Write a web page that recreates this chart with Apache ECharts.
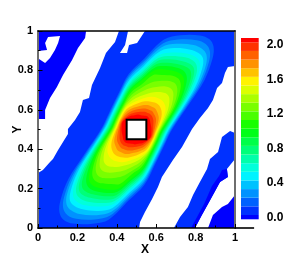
<!DOCTYPE html>
<html><head><meta charset="utf-8">
<style>html,body{margin:0;padding:0;background:#fff}#c{width:289px;height:257px}</style>
<script src="https://cdn.jsdelivr.net/npm/echarts@6/dist/echarts.min.js"></script>
</head><body><div id="c"></div>
<script>
// Colour scale: one colour per band of the legend (below 0, 0-0.1, ... above 2.0)
const bandEdges = [-0.05,0,0.1,0.2,0.3,0.4,0.5,0.6,0.7,0.8,0.9,1.0,1.1,1.2,1.3,1.4,1.5,1.6,1.7,1.8,1.9,2.0,2.05];
const bandColors = ['#0000ff','#0031ff','#0061ff','#0092ff','#00c2ff','#00f3ff','#00ffdb','#00ffaa','#00ff79','#00ff49','#00ff18',
  '#18ff00','#49ff00','#79ff00','#aaff00','#dbff00','#fff300','#ffc200','#ff9200','#ff6100','#ff3100','#ff0000'];
const legendTicks = [0,0.4,0.8,1.2,1.6,2.0];
const axisTicks = [0,0.2,0.4,0.6,0.8,1];

// Regions of the domain where the field is defined (x,y in axis units)
const regionMiddle = [[0,0],[0,.279],[.025,.294],[.061,.335],[.076,.350],[.102,.396],[.127,.437],[.152,.477],[.152,.503],[.188,.548],[.213,.589],[.228,.650],[.259,.660],[.274,.726],[.315,.812],[.345,.888],[.391,.944],[.411,1],[.457,1],[.442,.929],[.416,.888],[.452,.888],[.462,.929],[.503,.939],[.543,1],[1,1],[1,.822],[.964,.817],[.949,.787],[.934,.736],[.909,.711],[.888,.650],[.863,.609],[.822,.558],[.782,.503],[.731,.411],[.685,.345],[.629,.259],[.609,.208],[.579,.147],[.543,.081],[.518,.030],[.513,0]];
const regionUpperLeft = [[0,1],[.244,1],[.239,.964],[.203,.914],[.173,.853],[.127,.777],[.096,.716],[.061,.660],[.036,.599],[.036,.553],[0,.553],[0,.858],[.005,.858],[.036,.838],[.061,.863],[.086,.904],[.102,.939],[.112,.975],[.051,.970],[.036,.939],[.046,.904],[0,.898]];
const regionRight = [[.690,0],[.721,.056],[.761,.107],[.787,.168],[.822,.233],[.858,.299],[.873,.350],[.914,.386],[.934,.462],[.975,.492],[1,.482],[1,.350],[.959,.299],[.964,.259],[.924,.233],[.888,.168],[.863,.122],[.832,.066],[.797,0]];
const regionRightStrip = [[.959,.299],[.964,.259],[.924,.233],[.888,.168],[.863,.122],[.832,.066],[.797,0],[.777,0],[.843,.122],[.883,.213],[.919,.264],[.934,.294]];
const regionCorner = [[.863,0],[.888,.066],[.934,.107],[.964,.122],[1,.168],[1,0]];
const obstacle = [[.45,.45],[.55,.45],[.55,.55],[.45,.55]];

// Contour lines: distance from the domain centre along each ray, per level.
// The field is point-symmetric about the centre, so each ray also reads for angle+180.
const rayAngles = [150,175,190,207,216,223,227,231,236,245,253,264,278,297];
const radiusUnitsPerAxis = 197;
const contourLevels = [0.1,0.2,0.3,0.4,0.5,0.6,0.7,0.8,0.9,1.0,1.1,1.2,1.3,1.4,1.5,1.6,1.7,1.8,1.9,2.0];
const contourRadii = [
 [32,34,40.7,60.6,84,104,113,116,113.5,104,94,71,56,40],
 [31.1,33,39.4,58.4,80,99,107.5,110,107.8,99.3,90,68.4,54.1,38.8],
 [30.1,32,38.2,56.2,76.5,95,102.5,104,102,94.5,86,65.8,52.2,37.6],
 [29.2,30.9,36.9,54,73,90,97.5,98.5,96.3,89.8,82,63.2,50.2,36.4],
 [28.2,29.9,35.6,51.8,69.5,86,92.5,93.5,91.5,85,78,60.6,48.3,35.2],
 [27.3,28.9,34.4,50,66,82,88,89,87,81.2,74.8,58.3,46.6,34],
 [26.3,27.9,33.2,48.2,63,78,84,84.5,82.4,77.5,71.6,55.9,44.9,32.9],
 [25.4,26.8,32,46.2,60,74,79.5,80,78.2,73.7,68.4,53.6,43.3,31.7],
 [24.5,25.8,30.7,44.2,56.7,68.2,73.4,75.2,74.2,70,65.2,51.4,41.6,30.5],
 [23.6,24.8,29.5,42.4,54,64.6,69.4,71,70,66.2,62,49.3,39.9,29.3],
 [22.9,24,28.4,40.4,50.9,60.2,64.4,65.8,64.7,60,57,45,37.7,28.2],
 [22.1,23.2,27.3,38.4,47.9,55.8,59,60,58.5,53.5,49,41.5,35,27.1],
 [21.4,22.3,26.1,36,44,50.5,53,53.5,52,47,43,37.5,32.3,26.1],
 [20.6,21.5,25,33.5,40,45,46.5,46.5,45,41,37.5,33.5,29.5,25],
 [19.9,20.7,24,31,36,38,38.5,38.5,38,36,33.5,30,27,24],
 [19.1,19.7,22.5,28,31,32.5,33,33,32.5,31,29.5,27,24.5,22.5],
 [18.3,18.7,21,25,26.5,27.5,28,28,27.5,27,25.5,23.5,22,20.5],
 [17.5,17.6,19,22,23,23.5,24,24,23.5,23,22,20.5,19.5,18.5],
 [16.6,16.5,17,19,20,20.5,20.5,20.5,20,19.5,18.5,17.5,17,16.5],
 [16,15,15,15.5,16.5,17,17,17,16.5,15.5,15,15,14.5,15]
];

const contourPoints = radii => {
  const pts = [];
  [0,180].forEach(turn => rayAngles.forEach((a,i) => {
    const t = (a+turn)*Math.PI/180, r = radii[i]/radiusUnitsPerAxis;
    pts.push([0.5+r*Math.cos(t), 0.5+r*Math.sin(t)]);
  }));
  return pts;
};

const layers = [
  {points:regionMiddle, color:bandColors[1]},
  {points:regionUpperLeft, color:bandColors[0]},
  {points:regionRight, color:bandColors[1]},
  {points:regionRightStrip, color:bandColors[0]},
  {points:regionCorner, color:bandColors[0]}
];
contourRadii.forEach((radii,i) => layers.push({points:contourPoints(radii), color:bandColors[i+2], smooth:0.35}));
layers.push({points:obstacle, color:'#fff', stroke:'#000', lineWidth:2});

const font = {fontFamily:'"Liberation Sans",Arial,sans-serif', fontWeight:'bold', color:'#000'};
const chart = echarts.init(document.getElementById('c'), null, {renderer:'canvas'});
chart.setOption({
  animation:false,
  backgroundColor:'#fff',
  grid:[
    {left:38, top:31, width:197, height:197, outerBoundsMode:'none', containLabel:false},
    {left:241, top:38, width:17.7, height:181.3, outerBoundsMode:'none', containLabel:false}
  ],
  xAxis:[
    {gridIndex:0, type:'value', min:0, max:1, interval:0.2, z:10,
     name:'X', nameLocation:'middle', nameGap:16, nameMoveOverlap:false,
     nameTextStyle:{...font,fontSize:12,padding:[0,0,0,17]},
     axisLine:{show:true,onZero:false,lineStyle:{color:'#000',width:1.6}},
     axisTick:{show:true,inside:true,length:4,lineStyle:{color:'#000',width:1}},
     minorTick:{show:true,splitNumber:2,length:2.5,lineStyle:{color:'#000',width:1}},
     axisLabel:{...font,fontSize:11,margin:4,customValues:axisTicks},
     splitLine:{show:false}},
    {gridIndex:0, type:'value', min:0, max:1, position:'top', z:10,
     axisLine:{show:true,onZero:false,lineStyle:{color:'#000',width:1.6}},
     axisTick:{show:false},axisLabel:{show:false},splitLine:{show:false}},
    {gridIndex:1, type:'value', min:0, max:1, show:false}
  ],
  yAxis:[
    {gridIndex:0, type:'value', min:0, max:1, interval:0.2, z:10,
     name:'Y', nameLocation:'middle', nameGap:14, nameMoveOverlap:false, nameRotate:90,
     nameTextStyle:{...font,fontSize:12},
     axisLine:{show:true,onZero:false,lineStyle:{color:'#6e6e6e',width:2}},
     axisTick:{show:true,inside:true,length:4.5,lineStyle:{color:'#000',width:1}},
     minorTick:{show:true,splitNumber:2,length:2.5,lineStyle:{color:'#000',width:1}},
     axisLabel:{...font,fontSize:11,margin:5,customValues:axisTicks},
     splitLine:{show:false}},
    {gridIndex:0, type:'value', min:0, max:1, position:'right', z:10,
     axisLine:{show:true,onZero:false,lineStyle:{color:'#6e6e6e',width:2}},
     axisTick:{show:false},axisLabel:{show:false},splitLine:{show:false}},
    {gridIndex:1, type:'value', min:bandEdges[0], max:bandEdges[bandEdges.length-1], position:'right',
     axisLine:{show:false},axisTick:{show:false,customValues:legendTicks},splitLine:{show:false},
     axisLabel:{...font,fontSize:12,margin:8,customValues:legendTicks,
       formatter:v=>v.toFixed(1),verticalAlign:'top',lineHeight:5}}
  ],
  series:[
    {type:'custom', xAxisIndex:0, yAxisIndex:0, z:2, silent:true,
     data:layers.map((l,i)=>[0.5,0.5,i]),
     renderItem:(p,api)=>{
       const l=layers[p.dataIndex];
       return {type:'polygon',
         shape:{points:l.points.map(q=>api.coord(q)),smooth:l.smooth||0},
         style:{fill:l.color,stroke:l.stroke||null,lineWidth:l.lineWidth||0}};
     }},
    {type:'custom', xAxisIndex:2, yAxisIndex:2, z:2, silent:true,
     data:bandColors.map((c,i)=>[bandEdges[i],bandEdges[i+1]]),
     renderItem:(p,api)=>{
       const a=api.coord([0,api.value(0)]), b=api.coord([1,api.value(1)]);
       return {type:'rect',shape:{x:a[0],y:b[1],width:b[0]-a[0],height:a[1]-b[1]},
         style:{fill:bandColors[p.dataIndex]}};
     }},
    {type:'custom', xAxisIndex:0, yAxisIndex:0, z:11, silent:true, clip:false,
     data:[[1,0],[1.097,0]],
     renderItem:(p,api)=>{
       if(p.dataIndex!==0) return null;
       const a=api.coord([1,0]), b=api.coord([1.097,0]);
       return {type:'line',shape:{x1:a[0],y1:a[1],x2:b[0],y2:b[1]},style:{stroke:'#000',lineWidth:1.6}};
     }}
  ]
});
</script></body></html>
